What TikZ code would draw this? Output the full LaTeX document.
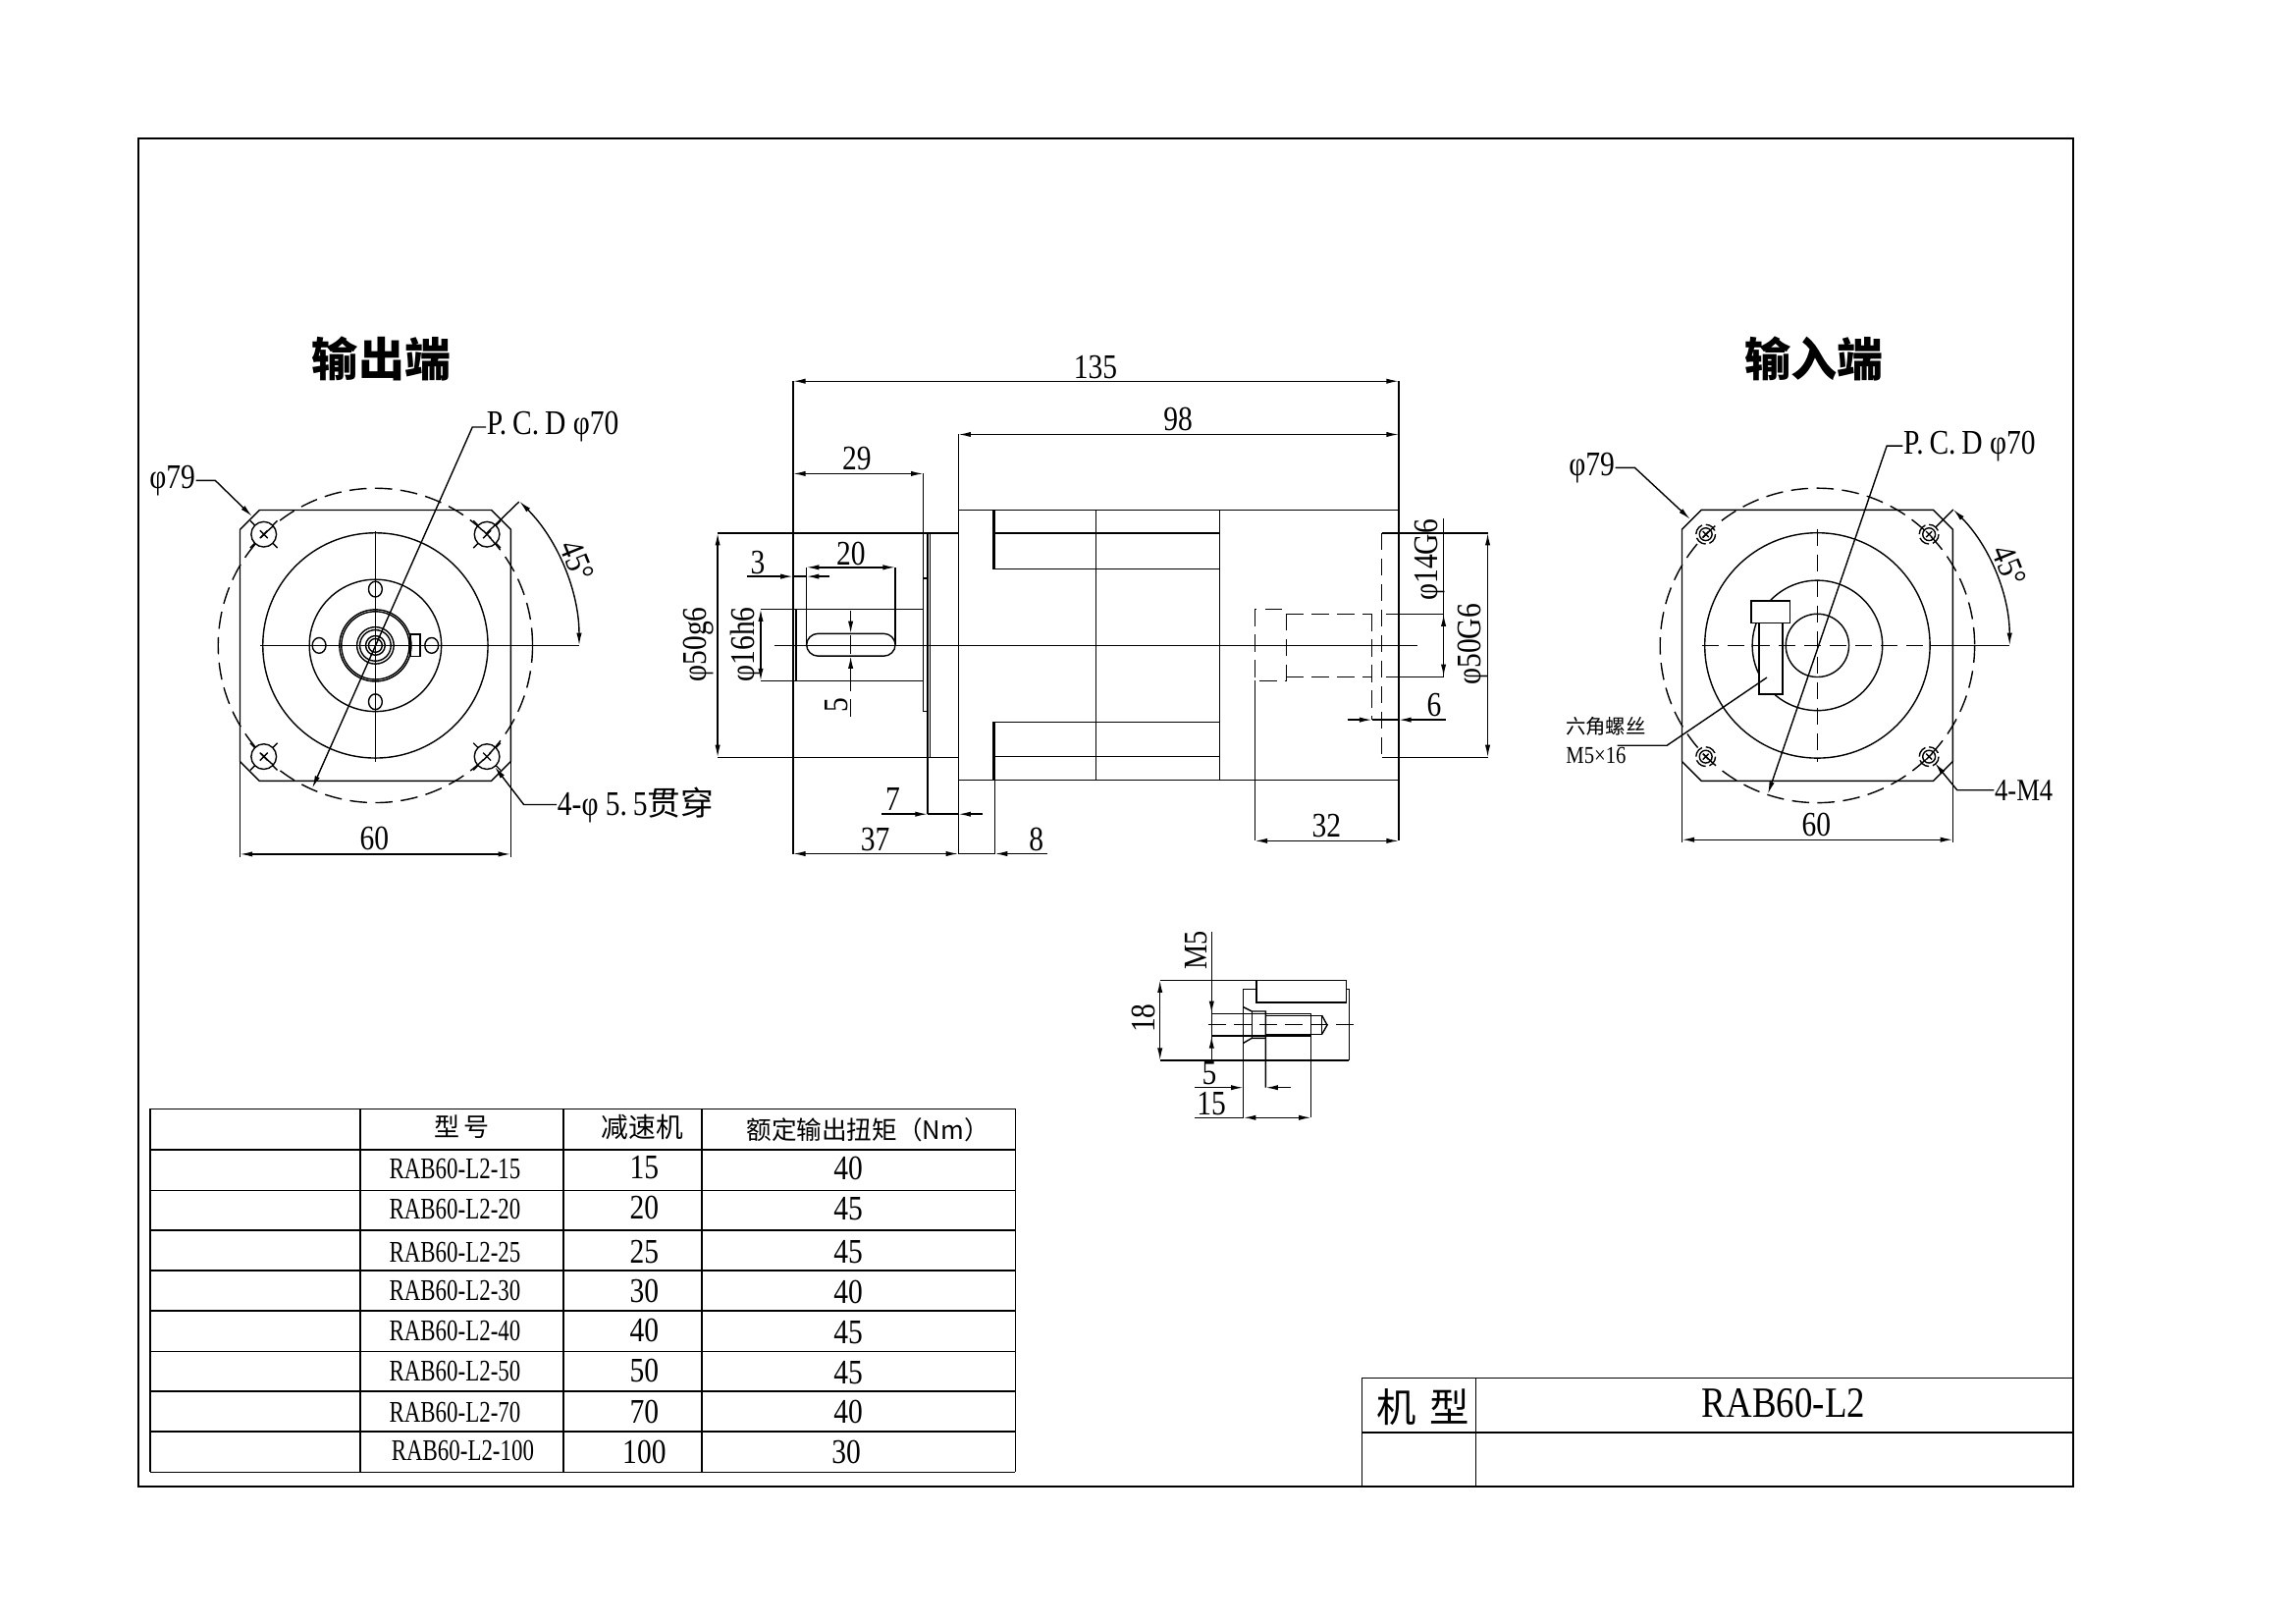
\documentclass[tikz,border=0pt]{standalone}
\usepackage{fontspec}
\setmainfont{Liberation Serif}
\newfontfamily\cjk{Noto Sans CJK SC}
\newfontfamily\dimserif[FakeStretch=0.84]{Liberation Serif}
\newfontfamily\narrowserif[FakeStretch=0.75]{Liberation Serif}
\usetikzlibrary{arrows.meta}

\newcommand{\flangeoutline}{\draw (-139.5,-119.5) -- (-119.5,-139.5) -- (119.5,-139.5) -- (139.5,-119.5)
  -- (139.5,119.5) -- (119.5,139.5) -- (-119.5,139.5) -- (-139.5,119.5) -- cycle;}

\begin{document}
\begin{tikzpicture}[x=0.1mm,y=-0.1mm,line width=0.4pt,>={Latex[length=3.6pt,width=1.5pt]}]
  \tikzstyle{dimtext}=[inner sep=0pt,font=\dimserif\fontsize{10}{11}\selectfont]
  \tikzstyle{viewtitle}=[inner sep=0pt,font=\cjk\bfseries\fontsize{13.4}{14}\selectfont]
  \tikzstyle{tabletext}=[inner sep=0pt,font=\narrowserif\fontsize{8.7}{9}\selectfont]
  \tikzstyle{tablehead}=[inner sep=0pt,font=\cjk\fontsize{7.4}{8}\selectfont]
  \tikzstyle{hidden}=[dash pattern=on 5pt off 2.4pt]

  \useasboundingbox (0,0) rectangle (2339,1653);
  \draw (141,141) rectangle (2112,1514);

  % output end
  \node[viewtitle] (outtitle) at (388.6,365.5) {输出端};
  \begin{scope}[shift={(382.4,657.4)},scale=0.9885]
    \flangeoutline
    \draw[hidden] (0,0) circle (162);
    \foreach \r in {116,68,37,35,19,16,10,7} \draw (0,0) circle (\r);
    \foreach \px/\py in {0/-58,0/58} \draw (\px,\py) ellipse (7 and 8);
    \foreach \px/\py in {-58/0,58/0} \draw (\px,\py) ellipse (7 and 8);
    \draw (36,-11.5) -- (46,-11.5) -- (46,11.5) -- (36,11.5) -- cycle;
    \foreach \sx in {-1,1} \foreach \sy in {-1,1} {
      \begin{scope}[shift={(\sx*115,\sy*114.5)}]
        \draw (0,0) circle (13);
        \draw (-4,-4) -- (4,4) (-4,4) -- (4,-4);
        \draw (-14,-14) -- (-9,-9) (14,14) -- (9,9) (-14,14) -- (-9,9) (14,-14) -- (9,-9);
      \end{scope}
    }
    \draw (-119,0) -- (210,0);
    \draw (0,-118) -- (0,120);
    % pcd and leaders
    \node[dimtext,anchor=west] (outpcd) at (114,-225) {P.\,C.\,D\ φ70};
    \draw[->] (outpcd.west) -- (100,-225) -- (-65,147);
    \node[dimtext,anchor=east] (outdia) at (-185,-170) {φ79};
    \draw[->] (outdia.east) -- (-165,-170) -- (-127,-133);
    \node[dimtext,anchor=west] (outholes) at (187,164) {4-φ\ 5.\,5{\cjk\fontsize{9.6}{10}\selectfont 贯穿}};
    \draw[->] (outholes.west) -- (153,164) -- (123,125);
    \draw (114,-115) -- (148,-148);
    \draw[<->] (210,0) arc[start angle=0,end angle=-45,radius=210];
    \node[dimtext,rotate=-68] (outangle) at (208,-87) {45°};
    % width
    \draw (-139.5,119.5) -- (-139.5,218) (139.5,119.5) -- (139.5,218);
    \draw[<->] (-139.5,215) -- (139.5,215);
    \node[dimtext] (outwidth) at (-1,199) {60};
  \end{scope}

  % side view
  \begin{scope}[shift={(7.9,4)},scale=0.9885]
    \draw (979.7,521.2) -- (1433.6,521.2) (979.7,799.4) -- (1433.6,799.4);
    \draw (979.7,443.6) -- (979.7,875.6);
    \draw (1433.6,388.7) -- (1433.6,862.3);
    \draw (809.3,388.7) -- (809.3,875.6);
    \draw (731.6,545.1) -- (979.7,545.1) (731.6,776.3) -- (979.7,776.3);
    \draw (943.6,484) -- (943.6,728.6) -- (948,728.6);
    \draw (943.6,592) -- (948,592);
    \draw (948,545.1) -- (948,834.8) (950.6,545.1) -- (950.6,776.3);
    \draw (776,623.5) -- (943.6,623.5) (776,697.5) -- (943.6,697.5);
    \draw (812.6,623.5) -- (812.6,697.5);
    \draw[rounded corners=10pt/3] (823.2,648.8) rectangle (914.7,671.9);
    \draw (823.2,580.5) -- (823.2,660) (914.7,580.5) -- (914.7,660);
    \draw[<-] (868.7,648.8) -- (868.7,625);
    \draw[<-] (868.7,671.9) -- (868.7,690);
    \draw (868.7,650) -- (868.7,670);
    \draw[hidden] (868.7,690) -- (868.7,736);
    \draw (1015.7,521.2) -- (1015.7,582) -- (1248.8,582);
    \draw (1017.4,521.2) -- (1017.4,582) (1017.4,545.4) -- (1248.8,545.4);
    \draw (1015.7,799.4) -- (1015.7,740.2) -- (1248.8,740.2);
    \draw (1017.4,740.2) -- (1017.4,875.6) (1017.4,775.6) -- (1248.8,775.6);
    \draw (1121.7,521.2) -- (1121.7,799.4) (1248.8,521.2) -- (1248.8,799.4);
    \draw (789.9,661) -- (1453,661);
    % input bore
    \draw[hidden] (1285.4,623.5) rectangle (1317.6,697.5);
    \draw (1285.4,697.5) -- (1285.4,862.3);
    \draw[hidden] (1317.6,628.5) -- (1405.9,628.5) (1317.6,693.2) -- (1405.9,693.2);
    \draw[hidden] (1405.9,628.5) -- (1405.9,737.6);
    \draw[hidden] (1415.9,545.1) -- (1415.9,776.3);
    \draw (1415.9,545.1) -- (1525.2,545.1) (1415.9,776.3) -- (1525.2,776.3);
    \draw (1420,628.5) -- (1479.7,628.5) (1420,693.2) -- (1479.7,693.2);
    \draw (1479.7,529.6) -- (1479.7,693.2);
    \draw[<->] (1479.7,628.5) -- (1479.7,693.2);
    \draw[<->] (1525.2,545.1) -- (1525.2,776.3);
    \draw[<->] (731.6,545.1) -- (731.6,776.3);
    \draw[<->] (776,623.5) -- (776,697.5);
    % dimensions along the top
    \draw[<->] (809.3,388.7) -- (1433.6,388.7);
    \draw[<->] (979.7,443.6) -- (1433.6,443.6);
    \draw[<->] (809.3,484) -- (943.6,484);
    \draw[<->] (823.2,580.5) -- (914.7,580.5);
    \draw[->] (762,589.9) -- (809.3,589.9);
    \draw[->] (847,589.9) -- (823.2,589.9);
    \draw (809.3,589.9) -- (823.2,589.9);
    % dimensions along the bottom
    \draw[->] (1005,834.8) -- (979.7,834.8);
    \draw[->] (900.9,834.8) -- (948,834.8);
    \draw (948,834.8) -- (979.7,834.8);
    \draw[<->] (809.3,875.6) -- (979.7,875.6);
    \draw (979.7,875.6) -- (1017.4,875.6);
    \draw[->] (1071,875.6) -- (1017.4,875.6);
    \draw[<->] (1285.4,862.3) -- (1433.6,862.3);
    \draw[->] (1380.9,737.6) -- (1405.9,737.6);
    \draw[->] (1482,737.6) -- (1433.6,737.6);
    \draw (1405.9,737.6) -- (1433.6,737.6);
    \node[dimtext] (len135) at (1121,374) {135};
    \node[dimtext] (len98) at (1206,428) {98};
    \node[dimtext] (len29) at (875,468) {29};
    \node[dimtext] (len20) at (869,567) {20};
    \node[dimtext] (len3) at (773,576) {3};
    \node[dimtext,rotate=90] (len5) at (854,722) {5};
    \node[dimtext,rotate=90] (diashaft) at (761,660) {φ16h6};
    \node[dimtext,rotate=90] (diapilot) at (712,660) {φ50g6};
    \node[dimtext,rotate=90] (diabore) at (1466,573) {φ14G6};
    \node[dimtext,rotate=90] (diainput) at (1510,660) {φ50G6};
    \node[dimtext] (len6) at (1470,722) {6};
    \node[dimtext] (len7) at (912,819) {7};
    \node[dimtext] (len37) at (894,861) {37};
    \node[dimtext] (len8) at (1060,861) {8};
    \node[dimtext] (len32) at (1359,847) {32};
  \end{scope}

  % input end
  \node[viewtitle] (intitle) at (1848,365.5) {输入端};
  \begin{scope}[shift={(1851.4,657.4)},scale=0.989]
    \flangeoutline
    \draw[hidden] (0,0) circle (162);
    \foreach \r in {116,67,32.5} \draw (0,0) circle (\r);
    \foreach \sx in {-1,1} \foreach \sy in {-1,1} {
      \begin{scope}[shift={(\sx*115,\sy*114.5)}]
        \draw (0,0) circle (6.5);
        \draw[dash pattern=on 3.3pt off 1.1pt] (0,0) circle (10);
        \draw (-3,-3) -- (3,3) (-3,3) -- (3,-3);
      \end{scope}
    }
    \draw[fill=white] (-68,-46) rectangle (-28,-23);
    \draw[fill=white] (-60,-23) rectangle (-36,50);
    \draw (-36,0) -- (-33,0);
    \draw[hidden] (-119,0) -- (116,0);
    \draw (116,0) -- (198,0);
    \draw[hidden] (0,-120) -- (0,120);
    \node[dimtext,anchor=west] (inpcd) at (88,-205.5) {P.\,C.\,D\ φ70};
    \draw[->] (inpcd.west) -- (71.5,-205.5) -- (-51,153);
    \node[dimtext,anchor=east] (india) at (-208,-183) {φ79};
    \draw[->] (india.east) -- (-188,-183) -- (-131,-130);
    \node[inner sep=0pt,font=\dimserif\fontsize{9}{10}\selectfont,anchor=west] (inholes) at (182,149) {4-M4};
    \draw[->] (inholes.west) -- (144,149) -- (121,121);
    \draw (122,-122) -- (140,-140);
    \draw[<->] (198,0) arc[start angle=0,end angle=-45,radius=198];
    \node[dimtext,rotate=-68] (inangle) at (198,-82) {45°};
    \node[inner sep=0pt,font=\cjk\fontsize{5.8}{7}\selectfont] (boltname) at (-218,83) {六角螺丝};
    \node[inner sep=0pt,font=\dimserif\fontsize{7}{8}\selectfont] (boltsize) at (-228,113) {M5×16};
    \draw (-206,103) -- (-155,103) -- (-52,33);
    \draw (-139.5,119.5) -- (-139.5,203) (139.5,119.5) -- (139.5,203);
    \draw[<->] (-139.5,200) -- (139.5,200);
    \node[dimtext] (inwidth) at (-1,185) {60};
  \end{scope}

  % detail of the screw
  \draw (1280,998.3) rectangle (1371.7,1021);
  \draw (1181.7,998.3) -- (1280,998.3) (1181.7,1080) -- (1374.3,1080);
  \draw (1266.7,1007.3) -- (1280,1007.3) (1371.7,1007.3) -- (1374.3,1007.3) -- (1374.3,1080);
  \draw (1266.7,1007.3) -- (1266.7,1138.3);
  \draw (1234.3,949.3) -- (1234.3,1080);
  \draw (1234.3,1032.3) -- (1335.7,1032.3) (1234.3,1055) -- (1335.7,1055);
  \draw (1289.3,1034.3) -- (1346.7,1034.3) -- (1346.7,1053.3) -- (1289.3,1053.3);
  \draw (1346.7,1034.3) -- (1352,1044) -- (1346.7,1053.3);
  \draw (1266.7,1025.7) -- (1275.3,1030) -- (1289.3,1030) -- (1289.3,1107.7);
  \draw (1266.7,1062.3) -- (1275.3,1057.3) -- (1289.3,1057.3);
  \draw (1275.3,1030) -- (1275.3,1057.3);
  \draw (1335.7,1032.3) -- (1335.7,1138.3);
  \draw[hidden] (1231,1043.3) -- (1382.3,1043.3);
  \draw[<->] (1181.7,998.3) -- (1181.7,1080);
  \draw[->] (1234.3,1020) -- (1234.3,1032.3);
  \draw[->] (1234.3,1067) -- (1234.3,1055);
  \draw[->] (1217.3,1107.7) -- (1266.7,1107.7);
  \draw[->] (1315,1107.7) -- (1289.3,1107.7);
  \draw (1217.3,1138.3) -- (1266.7,1138.3);
  \draw[<->] (1266.7,1138.3) -- (1335.7,1138.3);
  \node[dimtext,rotate=90] (detail18) at (1165,1037) {18};
  \node[inner sep=0pt,rotate=90,font=\dimserif\fontsize{9.6}{10}\selectfont] (detailm5) at (1219,968) {M5};
  \node[dimtext] (detail5) at (1232,1093) {5};
  \node[dimtext] (detail15) at (1234,1124) {15};

  % ratings table
  \begin{scope}[scale=0.9945]
    \foreach \rowy in {1135.5,1177.5,1219,1260,1301,1342.5,1384,1425,1466,1507.5}
      \draw (154,\rowy) -- (1040,\rowy);
    \foreach \colx in {154,369,577,719,1040}
      \draw (\colx,1135.5) -- (\colx,1507.5);
    \node[tablehead] (headtype) at (473,1154) {型\,号};
    \node[tablehead,font=\cjk\fontsize{7.9}{8}\selectfont] (headratio) at (658,1154) {减速机};
    \node[tablehead,font=\cjk\fontsize{7.3}{8}\selectfont] (headtorque) at (889,1157) {额定输出扭矩（Nm）};
    \foreach \ratio/\torque/\rowm/\rowr/\rowt [count=\n] in
        {15/40/1197/1196/1197,20/45/1238/1237/1238,25/45/1283/1282/1282,30/40/1322/1322/1323,
         40/45/1363/1362/1365,50/45/1404/1404/1406,70/40/1446/1446/1446}
    {
      \node[tabletext] (model\n) at (466,\rowm) {RAB60-L2-\ratio};
      \node[dimtext] (ratio\n) at (660,\rowr) {\ratio};
      \node[dimtext] (torque\n) at (869,\rowt) {\torque};
    }
    \node[tabletext] (model8) at (474,1486) {RAB60-L2-100};
    \node[dimtext] (ratio8) at (660,1487) {100};
    \node[dimtext] (torque8) at (867,1487) {30};

    % title block
    \draw (1395,1411.5) -- (2124,1411.5) (1395,1467) -- (2124,1467);
    \draw (1395,1411.5) -- (1395,1522) (1512,1411.5) -- (1512,1522);
    \node[inner sep=0pt,font=\cjk\fontsize{11.5}{12}\selectfont] (blockname) at (1458,1441) {机\,\,型};
    \node[inner sep=0pt,font=\dimserif\fontsize{12.5}{13}\selectfont] (blockmodel) at (1827,1437) {RAB60-L2};
  \end{scope}
\end{tikzpicture}
\end{document}
